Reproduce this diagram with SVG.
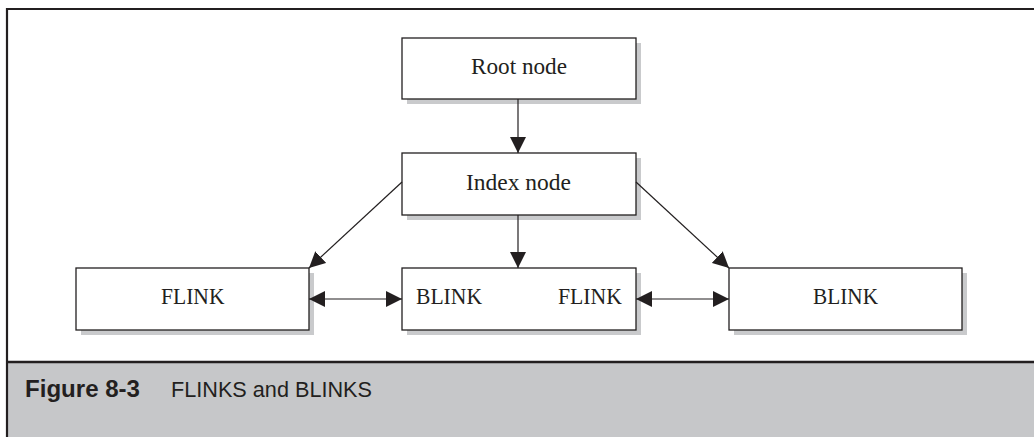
<svg xmlns="http://www.w3.org/2000/svg" width="1034" height="437" viewBox="0 0 1034 437">
<defs>
<style>
.box{fill:#fff;stroke:#231f20;stroke-width:1.3}
.shadow{fill:#c9cacc}
.lbl{font-family:"Liberation Serif","Times New Roman",serif;font-size:23px;fill:#231f20}
.edge{stroke:#231f20;stroke-width:1.2;fill:none}
.cap{font-family:"Liberation Sans",Arial,sans-serif;fill:#231f20}
</style>
<marker id="ah" viewBox="0 0 16 16" refX="16" refY="8" markerWidth="16" markerHeight="16" markerUnits="userSpaceOnUse" orient="auto-start-reverse">
<path d="M0,0 L16,8 L0,16 Z" fill="#231f20"/>
</marker>
</defs>
<rect x="0" y="0" width="1034" height="437" fill="#fff"/>
<rect x="7" y="362" width="1027" height="75" fill="#c6c7c9"/>
<line x1="7" y1="9" x2="1034" y2="9" stroke="#231f20" stroke-width="2.2"/>
<line x1="7" y1="8" x2="7" y2="437" stroke="#231f20" stroke-width="2.2"/>
<line x1="7" y1="362" x2="1034" y2="362" stroke="#231f20" stroke-width="2.6"/>
<g id="root">
<rect class="shadow" x="407" y="43" width="234" height="61"/>
<rect class="box" x="402" y="38" width="234" height="61"/>
<text class="lbl" x="471" y="74" textLength="96" lengthAdjust="spacingAndGlyphs">Root node</text>
</g>
<g id="index">
<rect class="shadow" x="407" y="158" width="234" height="62"/>
<rect class="box" x="402" y="153" width="234" height="62"/>
<text class="lbl" x="466" y="190" textLength="105" lengthAdjust="spacingAndGlyphs">Index node</text>
</g>
<g id="left">
<rect class="shadow" x="81" y="273" width="233" height="62"/>
<rect class="box" x="76" y="268" width="233" height="62"/>
<text class="lbl" x="161" y="304" textLength="63.5" lengthAdjust="spacingAndGlyphs">FLINK</text>
</g>
<g id="middle">
<rect class="shadow" x="407" y="273" width="234" height="62"/>
<rect class="box" x="402" y="268" width="234" height="62"/>
<text class="lbl" x="416" y="304" textLength="66" lengthAdjust="spacingAndGlyphs">BLINK</text>
<text class="lbl" x="558" y="304" textLength="64" lengthAdjust="spacingAndGlyphs">FLINK</text>
</g>
<g id="right">
<rect class="shadow" x="734" y="273" width="233" height="62"/>
<rect class="box" x="729" y="268" width="233" height="62"/>
<text class="lbl" x="813" y="304" textLength="65" lengthAdjust="spacingAndGlyphs">BLINK</text>
</g>
<g id="connectors">
<line class="edge" x1="518" y1="99" x2="518" y2="153" marker-end="url(#ah)"/>
<line class="edge" x1="518" y1="215" x2="518" y2="268" marker-end="url(#ah)"/>
<line class="edge" x1="402" y1="182" x2="309" y2="268" marker-end="url(#ah)"/>
<line class="edge" x1="636" y1="182" x2="729" y2="268" marker-end="url(#ah)"/>
<line class="edge" x1="309" y1="299" x2="402" y2="299" marker-start="url(#ah)" marker-end="url(#ah)"/>
<line class="edge" x1="636" y1="299" x2="729" y2="299" marker-start="url(#ah)" marker-end="url(#ah)"/>
</g>
<g id="caption">
<text class="cap" x="25" y="397" font-size="24" font-weight="bold" textLength="115" lengthAdjust="spacingAndGlyphs">Figure 8-3</text>
<text class="cap" x="171" y="397" font-size="22" textLength="201" lengthAdjust="spacingAndGlyphs">FLINKS and BLINKS</text>
</g>
</svg>
